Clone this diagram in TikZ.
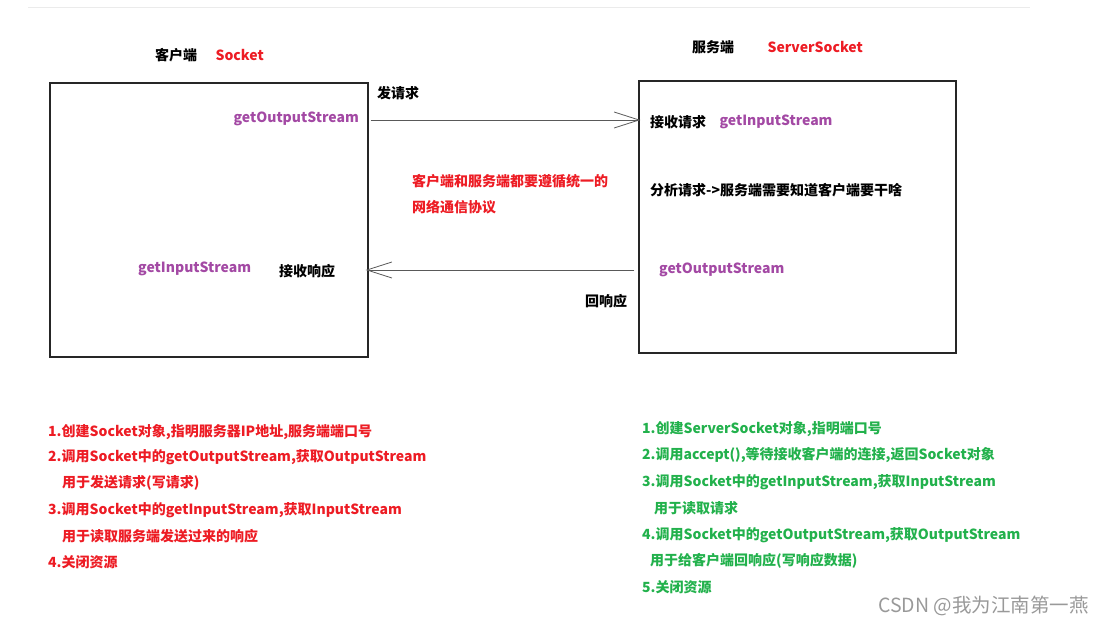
\documentclass[tikz,border=0pt]{standalone}
\usepackage{xcolor}
\usepackage{fontspec}
\setmainfont{Noto Sans CJK SC}
\usetikzlibrary{positioning,arrows.meta}

\definecolor{paintred}{HTML}{ED1C24}
\definecolor{paintpurple}{HTML}{A349A4}
\definecolor{paintgreen}{HTML}{22B14C}

\begin{document}
\begin{tikzpicture}[
    x=1pt,y=-1pt,
    txt/.style={anchor=west,inner sep=0pt,font=\fontsize{14}{16}\selectfont\bfseries},
    box/.style={rectangle,draw=black!85,line width=1.2pt,inner sep=0pt},
    arrow/.style={-{Straight Barb[length=25pt,width=16pt]},draw=black!65,line width=0.8pt},
    ]

    \useasboundingbox (0,0) rectangle (1107,626);
    \draw[black!8,line width=1pt] (28,8)--(1030,8);

    % the two sides
    \node[box,minimum width=318pt,minimum height=274pt] (client) at (209,220) {};
    \node[box,minimum width=317pt,minimum height=272pt] (server) at (797.5,217) {};

    \node[txt] (clientlbl) at (155,55) {客户端};
    \node[txt,text=paintred,right=18pt of clientlbl] (clientsock) {Socket};
    \node[txt] (serverlbl) at (692,47) {服务端};
    \node[txt,text=paintred,right=33pt of serverlbl] (serversock) {ServerSocket};

    % inside the client
    \node[txt,text=paintpurple,anchor=east] (cout) at (359,119) {getOutputStream};
    \node[txt,text=paintpurple] (cin) at (138,269) {getInputStream};
    \node[txt] (recvresp) at (279,271) {接收响应};

    % inside the server
    \node[txt] (recvreq) at (650,122) {接收请求};
    \node[txt,text=paintpurple,right=13pt of recvreq] (sin) {getInputStream};
    \node[txt] (analyse) at (650,190) {分析请求->服务端需要知道客户端要干啥};
    \node[txt,text=paintpurple] (sout) at (659,270) {getOutputStream};

    % between them
    \node[txt] (sendreq) at (377,93) {发请求};
    \node[txt] (backresp) at (585,301) {回响应};
    \node[txt,text=paintred] (proto1) at (412,181) {客户端和服务端都要遵循统一的};
    \node[txt,text=paintred] (proto2) at (412,207) {网络通信协议};

    \draw[arrow,shorten <=2pt,shorten >=-2pt] (client.east |- 0,120) -- (server.west |- 0,120);
    \draw[arrow,shorten <=4pt,shorten >=-3pt] (server.west |- 0,270) -- (client.east |- 0,270);

    % client steps
    \node[txt,text=paintred] (c1) at (48,432) {1.创建Socket对象,指明服务器IP地址,服务端端口号};
    \node[txt,text=paintred] (c2) at (48,457) {2.调用Socket中的getOutputStream,获取OutputStream};
    \node[txt,text=paintred] (c2b) at (62,483) {用于发送请求(写请求)};
    \node[txt,text=paintred] (c3) at (48,510) {3.调用Socket中的getInputStream,获取InputStream};
    \node[txt,text=paintred] (c3b) at (62,536) {用于读取服务端发送过来的响应};
    \node[txt,text=paintred] (c4) at (48,562) {4.关闭资源};

    % server steps
    \node[txt,text=paintgreen] (s1) at (642,429) {1.创建ServerSocket对象,指明端口号};
    \node[txt,text=paintgreen] (s2) at (642,455) {2.调用accept(),等待接收客户端的连接,返回Socket对象};
    \node[txt,text=paintgreen] (s3) at (642,482) {3.调用Socket中的getInputStream,获取InputStream};
    \node[txt,text=paintgreen] (s3b) at (654,508) {用于读取请求};
    \node[txt,text=paintgreen] (s4) at (642,535) {4.调用Socket中的getOutputStream,获取OutputStream};
    \node[txt,text=paintgreen] (s4b) at (650,561) {用于给客户端回响应(写响应数据)};
    \node[txt,text=paintgreen] (s5) at (642,587) {5.关闭资源};

    \node[anchor=west,inner sep=0pt,text=black!40,font=\fontsize{19.5}{22}\selectfont] (mark) at (878,606) {CSDN @我为江南第一燕};

  \end{tikzpicture}
\end{document}
